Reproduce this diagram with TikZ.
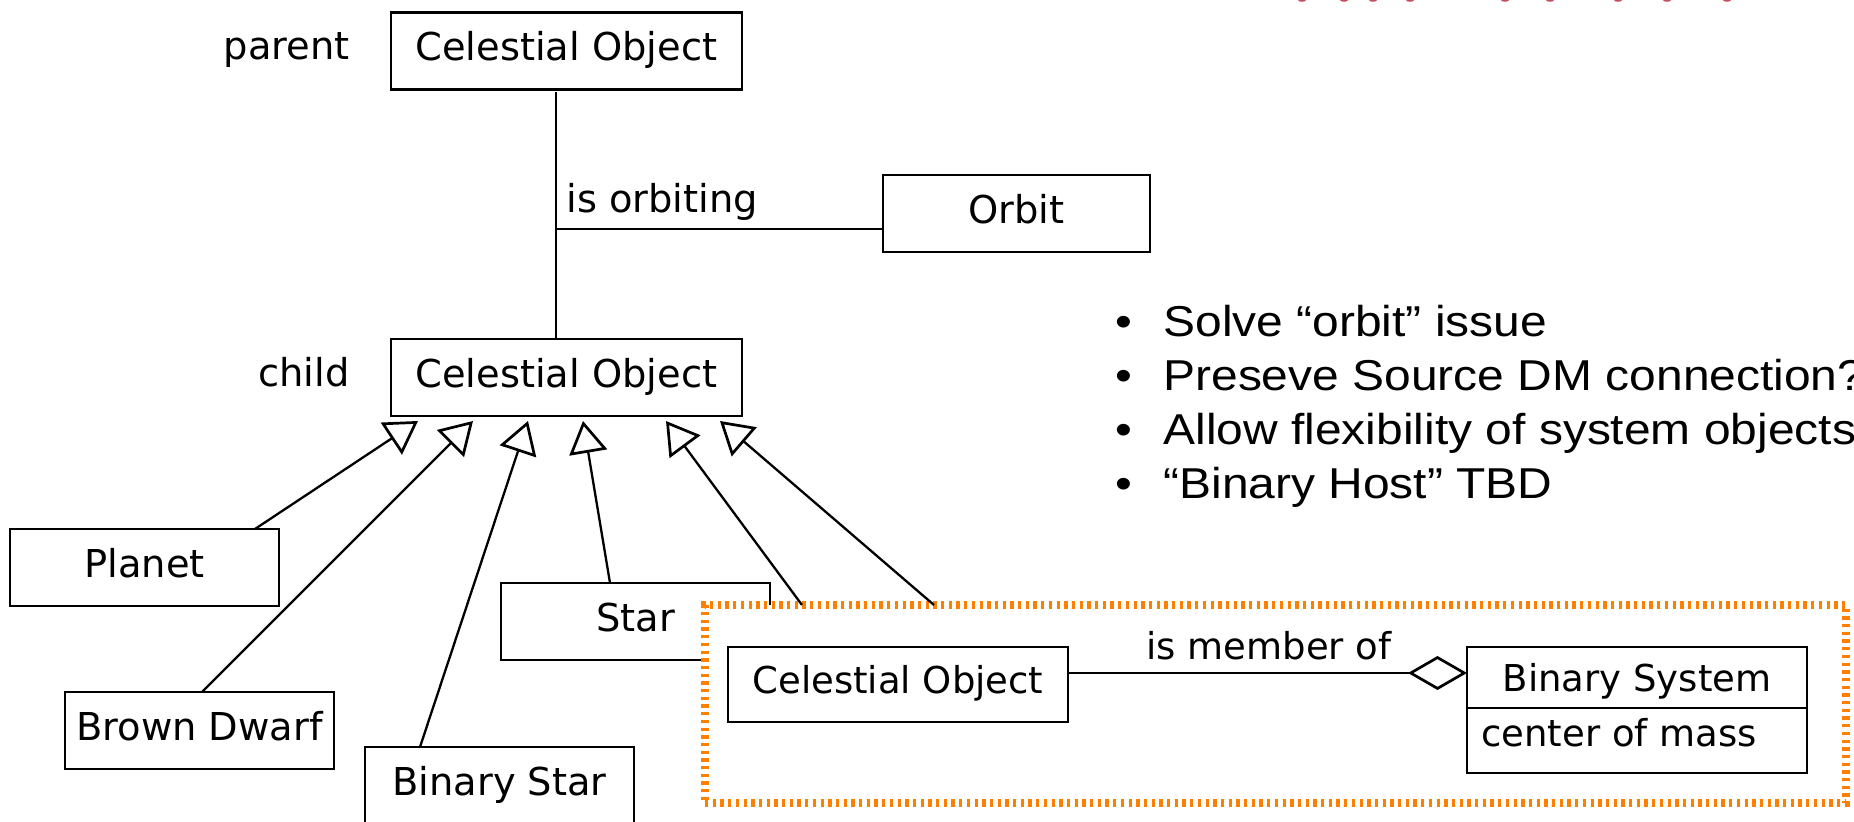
\documentclass[tikz,border=0pt]{standalone}
\usepackage{fontspec}
\setmainfont{DejaVu Sans}
\newfontfamily\notefont[FakeStretch=1.11]{Liberation Sans}
\usetikzlibrary{arrows.meta,calc}

\definecolor{grouporange}{RGB}{255,128,0}
\definecolor{titlered}{RGB}{192,80,96}

\begin{document}
\begin{tikzpicture}[x=0.5pt,y=-0.5pt,
  diag/.style={font=\fontsize{19.2}{23}\selectfont},
  gdiag/.style={font=\fontsize{18.5}{22}\selectfont},
  box/.style={diag, draw, line width=1.35pt, fill=white, inner sep=0pt, outer sep=0pt,
    minimum height=38.5pt, text height=14.4pt, text depth=4.8pt},
  gbox/.style={box, gdiag, text height=13.9pt, text depth=4.6pt, minimum width=170pt},
  widebox/.style={box, minimum width=175.5pt},
  classbox/.style={box, minimum width=134.5pt},
  lbl/.style={diag, inner sep=0pt},
  glbl/.style={gdiag, inner sep=0pt},
  note/.style={font=\notefont\fontsize{21.6}{26}\selectfont, inner sep=0pt},
  conn/.style={line width=1.15pt},
  gen/.style={conn, -{Triangle[open, length=16pt, width=19pt, line width=1.35pt]}},
  aggr/.style={conn, -{Diamond[open, length=29.5pt, width=17pt, line width=1.35pt]}},
  group/.style={draw=grouporange, fill=white, line width=3.75pt,
    dash pattern=on 1.65pt off 2.2pt, inner sep=0pt, outer sep=0pt,
    minimum width=570.5pt, minimum height=99pt},
  frag/.style={fill=titlered}
]
\useasboundingbox (0,0) rectangle (1854,822);

% fragments of the red heading cut off at the top edge
\foreach \fx in {1302,1344,1373,1410,1505,1550,1618,1667,1727}
  \fill[frag] (\fx,0) ellipse [x radius=2pt, y radius=0.9pt];

% class boxes
\node[widebox] (parent) at (566.5,51) {Celestial Object};
\node[widebox] (child) at (566.5,377.5) {Celestial Object};
\node[box, minimum width=133.5pt] (orbit) at (1016.5,213.5) {Orbit};
\node[classbox] (planet) at (144.5,567.5) {Planet};
\node[classbox] (star) at (635.5,621.5) {Star};
\node[classbox] (brown) at (199.5,730.5) {Brown Dwarf};
\node[classbox] (binstar) at (499.5,785.5) {Binary Star};

% role labels
\node[lbl, anchor=base east] (lparent) at (350,60) {parent};
\node[lbl, anchor=base east] (lchild) at (350,387) {child};

% orbit association
\coordinate (jn) at (556,229);
\draw[conn] ($(parent.south west)+(165,3)$) -- ($(child.north west)+(165,0)$);
\draw[conn] (jn) -- ($(orbit.south west)+(0,-23)$);
\node[lbl, anchor=base west] (lorbit) at (566,213) {is orbiting};

% binary system group
\node[group] (grp) at (1275.5,704) {};
\node[gbox, minimum height=37.5pt] (co2) at (898,684.5) {Celestial Object};
\node[gbox, minimum height=63pt] (bsys) at (1637,710) {};
\draw[line width=1.35pt] ($(bsys.north west)+(0,61)$) -- ($(bsys.north east)+(0,61)$);
\node[glbl, anchor=base] (bsysname) at (1637,692) {Binary System};
\node[glbl, anchor=base west] (bsysattr) at (1481,747) {center of mass};
\draw[aggr] ($(co2.north east)+(0,26)$) -- ($(bsys.north west)+(0,26)$);
\node[glbl, anchor=base] (lmember) at (1269,660) {is member of};

% generalizations
\draw[gen] ($(planet.north west)+(245,0)$) -- ($(child.south west)+(27,5)$);
\draw[gen] ($(brown.north west)+(137,0)$) -- ($(child.south west)+(82,5)$);
\draw[gen] ($(binstar.north west)+(55,0)$) -- ($(child.south west)+(137,5)$);
\draw[gen] ($(star.north west)+(109,0)$) -- ($(child.south west)+(192,5)$);
\draw[gen] ($(grp.north west)+(97,0)$) -- ($(child.south west)+(275,5)$);
\draw[gen] ($(grp.north west)+(229,0)$) -- ($(child.south west)+(329,5)$);

% notes
\foreach \ny/\ntext [count=\ni] in {337/{Solve “orbit” issue},
    391/{Preseve Source DM connection?},
    445/{Allow flexibility of system objects},
    499/{“Binary Host” TBD}} {
  \node[note, anchor=base] (dot\ni) at (1124,\ny) {•};
  \node[note, anchor=base west] (note\ni) at (1163,\ny) {\ntext};
}
\end{tikzpicture}
\end{document}
